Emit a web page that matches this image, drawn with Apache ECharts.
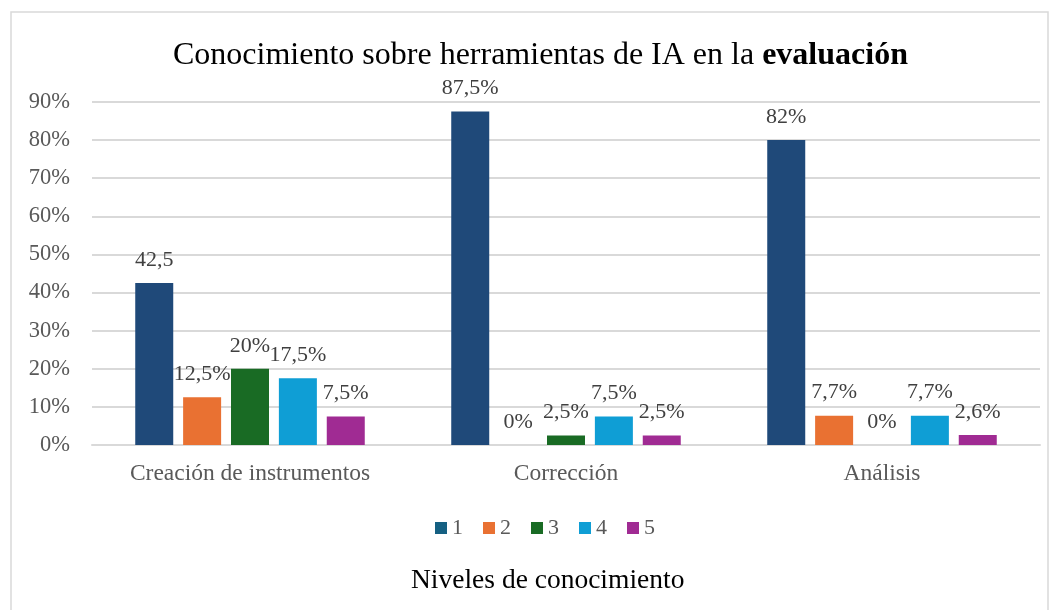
<!DOCTYPE html>
<html>
<head>
<meta charset="utf-8">
<script src="https://cdn.jsdelivr.net/npm/echarts@6/dist/echarts.min.js"></script>
<style>
  html, body { margin: 0; padding: 0; background: #fff; }
  #chart { width: 1060px; height: 610px; }
</style>
</head>
<body>
<div id="chart"></div>
<script>
var categories = ['Creación de instrumentos', 'Corrección', 'Análisis'];
var levels = ['1', '2', '3', '4', '5'];
// bar heights as drawn (percent)
var values = [
  [42.5, 87.5, 80],
  [12.5, 0, 7.7],
  [20, 2.5, 0],
  [17.5, 7.5, 7.7],
  [7.5, 2.5, 2.6]
];
// data labels as printed in the chart
var labels = [
  ['42,5', '87,5%', '82%'],
  ['12,5%', '0%', '7,7%'],
  ['20%', '2,5%', '0%'],
  ['17,5%', '7,5%', '7,7%'],
  ['7,5%', '2,5%', '2,6%']
];
var colors = ['#1F4979', '#E97132', '#196B24', '#0F9ED5', '#A02B93'];
var legendColors = ['#156082', '#E97132', '#196B24', '#0F9ED5', '#A02B93'];

var font = 'Liberation Serif, Times New Roman, serif';

var myChart = echarts.init(document.getElementById('chart'));

var series = levels.map(function (lv, i) {
  return {
    name: lv,
    type: 'bar',
    barWidth: 38,
    barGap: '26%',
    barCategoryGap: '27%',
    itemStyle: { color: colors[i] },
    label: {
      show: true,
      position: 'top',
      distance: 12,
      fontFamily: font,
      fontSize: 22,
      color: '#404040',
      formatter: function (p) {
        return labels[i][p.dataIndex];
      }
    },
    data: values[i]
  };
});

var option = {
  animation: false,
  backgroundColor: '#fff',
  title: [
    {
      text: 'Conocimiento sobre herramientas de IA en la {b|evaluación}',
      left: 168,
      top: 35,
      textStyle: {
        fontFamily: font,
        fontSize: 32,
        fontWeight: 'normal',
        color: '#000',
        rich: {
          b: { fontFamily: font, fontSize: 32, fontWeight: 'bold', color: '#000' }
        }
      }
    },
    {
      text: 'Niveles de conocimiento',
      left: 406,
      top: 562,
      textStyle: {
        fontFamily: font,
        fontSize: 27.5,
        fontWeight: 'normal',
        color: '#000'
      }
    }
  ],
  legend: {
    data: levels.map(function (lv, i) {
      return { name: lv, itemStyle: { color: legendColors[i] } };
    }),
    top: 512,
    left: 430,
    itemWidth: 12,
    itemHeight: 12,
    itemGap: 20,
    icon: 'rect',
    textStyle: { fontFamily: font, fontSize: 22, color: '#595959' }
  },
  grid: {
    left: 92,
    right: 20,
    top: 102,
    bottom: 165,
    containLabel: false
  },
  xAxis: {
    type: 'category',
    data: categories,
    axisTick: { show: false },
    axisLine: { lineStyle: { color: '#d9d9d9', width: 2 } },
    axisLabel: {
      fontFamily: font,
      fontSize: 23.5,
      color: '#595959',
      margin: 17
    }
  },
  yAxis: {
    type: 'value',
    min: 0,
    max: 90,
    interval: 10,
    axisLine: { show: false },
    axisTick: { show: false },
    splitLine: { lineStyle: { color: '#d9d9d9', width: 2 } },
    axisLabel: {
      fontFamily: font,
      fontSize: 22.5,
      color: '#595959',
      margin: 22,
      formatter: '{value}%'
    }
  },
  graphic: [
    {
      type: 'rect',
      shape: { x: 11, y: 12, width: 1037, height: 610 },
      style: { fill: 'none', stroke: '#d9d9d9', lineWidth: 1.5 },
      silent: true
    }
  ],
  series: series
};

myChart.setOption(option);
</script>
</body>
</html>
